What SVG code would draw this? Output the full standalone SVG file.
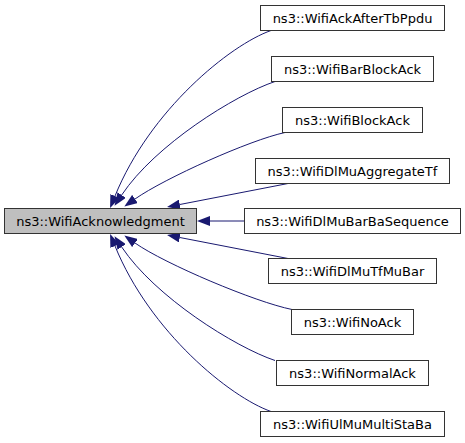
<svg xmlns="http://www.w3.org/2000/svg" width="465" height="443" viewBox="0 0 465 443">
<style>
.node rect{fill:#ffffff;stroke:#333333;stroke-width:1}
.node.main rect{fill:#bfbfbf}
.node text{font-family:"DejaVu Sans","Liberation Sans",sans-serif;font-size:13px;fill:#000000;text-anchor:middle}
.edge{fill:none;stroke:#191970;stroke-width:1;marker-end:url(#arrow)}
</style>
<defs>
<marker id="arrow" viewBox="0 0 13 10" refX="0" refY="5" markerWidth="13" markerHeight="10" markerUnits="userSpaceOnUse" orient="auto">
<path d="M0,0 L13,5 L0,10 Z" fill="#191970"/>
</marker>
</defs>
<rect width="465" height="443" fill="#ffffff"/>
<g id="connectors">
<path class="edge" d="M271,30.5 C230,45 150,110 115,196"/>
<path class="edge" d="M275,81.5 C235,95 155,145 121.7,195"/>
<path class="edge" d="M285,132.5 C250,140 165,178 135,199"/>
<path class="edge" d="M288,183.5 L179.8,204.5"/>
<path class="edge" d="M244.5,221 L210,221"/>
<path class="edge" d="M288,258.5 L179.8,237.5"/>
<path class="edge" d="M292,309.5 C255,302 165,264 135,243"/>
<path class="edge" d="M275,360.5 C235,347 155,297 121.7,247"/>
<path class="edge" d="M271,411.5 C230,397 150,332 115,246"/>
</g>
<g id="node-WifiAcknowledgment" class="node main">
<rect x="4.5" y="208.5" width="192" height="25"/>
<text x="100.5" y="225.5">ns3::WifiAcknowledgment</text>
</g>
<g id="node-WifiAckAfterTbPpdu" class="node">
<rect x="260.5" y="5.5" width="184" height="25"/>
<text x="352.5" y="22.5">ns3::WifiAckAfterTbPpdu</text>
</g>
<g id="node-WifiBarBlockAck" class="node">
<rect x="271.5" y="56.5" width="162" height="25"/>
<text x="352.5" y="73.5">ns3::WifiBarBlockAck</text>
</g>
<g id="node-WifiBlockAck" class="node">
<rect x="282.5" y="107.5" width="140" height="25"/>
<text x="352.5" y="124.5">ns3::WifiBlockAck</text>
</g>
<g id="node-WifiDlMuAggregateTf" class="node">
<rect x="255.5" y="158.5" width="194" height="25"/>
<text x="352.5" y="175.5">ns3::WifiDlMuAggregateTf</text>
</g>
<g id="node-WifiDlMuBarBaSequence" class="node">
<rect x="244.5" y="208.5" width="216" height="25"/>
<text x="352.5" y="225.5">ns3::WifiDlMuBarBaSequence</text>
</g>
<g id="node-WifiDlMuTfMuBar" class="node">
<rect x="268.5" y="258.5" width="168" height="25"/>
<text x="352.5" y="275.5">ns3::WifiDlMuTfMuBar</text>
</g>
<g id="node-WifiNoAck" class="node">
<rect x="291.5" y="309.5" width="122" height="25"/>
<text x="352.5" y="326.5">ns3::WifiNoAck</text>
</g>
<g id="node-WifiNormalAck" class="node">
<rect x="276.5" y="360.5" width="152" height="25"/>
<text x="352.5" y="377.5">ns3::WifiNormalAck</text>
</g>
<g id="node-WifiUlMuMultiStaBa" class="node">
<rect x="260.5" y="411.5" width="184" height="25"/>
<text x="352.5" y="428.5">ns3::WifiUlMuMultiStaBa</text>
</g>
</svg>
